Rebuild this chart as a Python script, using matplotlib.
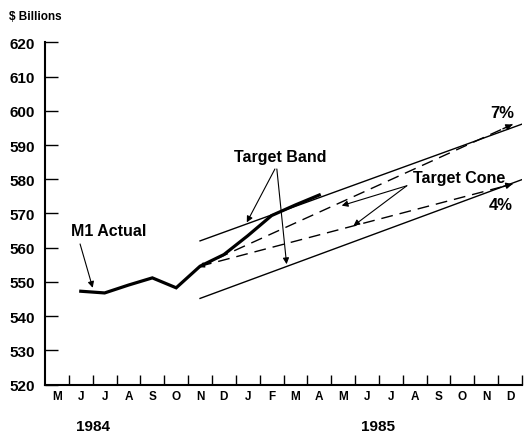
import numpy as np
import matplotlib.pyplot as plt

plt.rcParams['font.family'] = ['Liberation Sans', 'DejaVu Sans']
plt.rcParams['font.weight'] = 'bold'

# month index: 0 = start of May 1984, labels at month centres
month_labels = ["M", "J", "J", "A", "S", "O", "N", "D", "J", "F",
                "M", "A", "M", "J", "J", "A", "S", "O", "N", "D"]
year_labels = ["1984", "1985"]
year_pos = [2.03, 13.97]

# M1 actual, Jun 1984 .. Apr 1985 ($ billions)
actual_x = [1.5, 2.5, 3.5, 4.5, 5.5, 6.5, 7.5, 8.5, 9.5, 10.5, 11.5]
actual_m1 = [547.3, 546.8, 549.1, 551.2, 548.3, 554.6, 558.0, 563.5, 569.4, 572.5, 575.4]

# target band (parallel solid lines)
band_x = [6.5, 20.0]
band_upper = [562.0, 596.1]
band_lower = [545.2, 579.9]

# target cone (dashed, 4% and 7%)
cone_x = [6.5, 19.6]
cone_7 = [554.6, 596.0]
cone_4 = [554.6, 578.6]

fig = plt.figure(figsize=(5.24, 4.35), dpi=100)
ax = fig.add_axes([0.0859, 0.1133, 0.9103, 0.7872])
ax.set_xlim(0, 20)
ax.set_ylim(520, 620)

# band
ax.plot(band_x, band_upper, color="black", lw=1.0)
ax.plot(band_x, band_lower, color="black", lw=1.0)

# cone
for cy in (cone_7, cone_4):
    ax.plot(cone_x, cy, color="black", lw=1.0, dashes=(8.5, 5))
    ax.annotate("", xy=(cone_x[1], cy[1]),
                xytext=(cone_x[1] - 0.4, cy[1] - (cy[1] - cy[0]) * 0.4 / (cone_x[1] - cone_x[0])),
                arrowprops=dict(arrowstyle="-|>", color="black", lw=1.0,
                                mutation_scale=9, shrinkA=0, shrinkB=0))
# arrowhead at cone base
ax.annotate("", xy=(6.45, 554.3), xytext=(7.0, 556.0),
            arrowprops=dict(arrowstyle="-|>", color="black", lw=0.8,
                            mutation_scale=8, shrinkA=0, shrinkB=0))

# M1 actual
ax.plot(actual_x, actual_m1, color="black", lw=2.3, solid_joinstyle="miter")

arrow = dict(arrowstyle="-|>", color="black", lw=0.8, mutation_scale=9,
             shrinkA=0, shrinkB=0)

ax.text(2.68, 565.0, "M1 Actual", fontsize=11.5, ha="center", va="center")
ax.annotate("", xy=(2.0, 548.3), xytext=(1.47, 561.1), arrowprops=arrow)

ax.text(9.85, 586.5, "Target Band", fontsize=11.5, ha="center", va="center")
ax.annotate("", xy=(8.46, 567.4), xytext=(9.64, 583.0), arrowprops=arrow)
ax.annotate("", xy=(10.13, 555.2), xytext=(9.72, 583.0), arrowprops=arrow)

ax.text(17.36, 580.6, "Target Cone", fontsize=11.5, ha="center", va="center")
ax.annotate("", xy=(12.44, 572.3), xytext=(15.17, 578.1), arrowprops=arrow)
ax.annotate("", xy=(12.93, 566.4), xytext=(15.17, 578.1), arrowprops=arrow)

ax.text(19.16, 599.6, "7%", fontsize=12, ha="center", va="center")
ax.text(19.12, 572.5, "4%", fontsize=12, ha="center", va="center")

ax.text(-0.42, 627.6, "$ Billions", fontsize=8.5, ha="center", va="center",
        clip_on=False)

# axes styling
for s in ("top", "right"):
    ax.spines[s].set_visible(False)
ax.spines["left"].set_linewidth(1.5)
ax.spines["bottom"].set_linewidth(1.5)

ax.set_yticks(np.arange(520, 621, 10))
ax.tick_params(axis="y", direction="in", length=9.5, width=1.0, pad=7,
               labelsize=11)
ax.set_xticks(np.arange(20) + 0.5)
ax.set_xticklabels(month_labels)
ax.tick_params(axis="x", which="major", length=0, pad=4, labelsize=8.5)
ax.set_xticks(np.arange(1, 21), minor=True)
ax.tick_params(axis="x", which="minor", direction="in", length=7.5, width=1.0)

# year labels sit just above the bottom edge
for lbl, xp in zip(year_labels, year_pos):
    ax.text(xp, 506.0, lbl, fontsize=11, ha="center", va="bottom", clip_on=False)

fig.savefig("out.png", dpi=100)
